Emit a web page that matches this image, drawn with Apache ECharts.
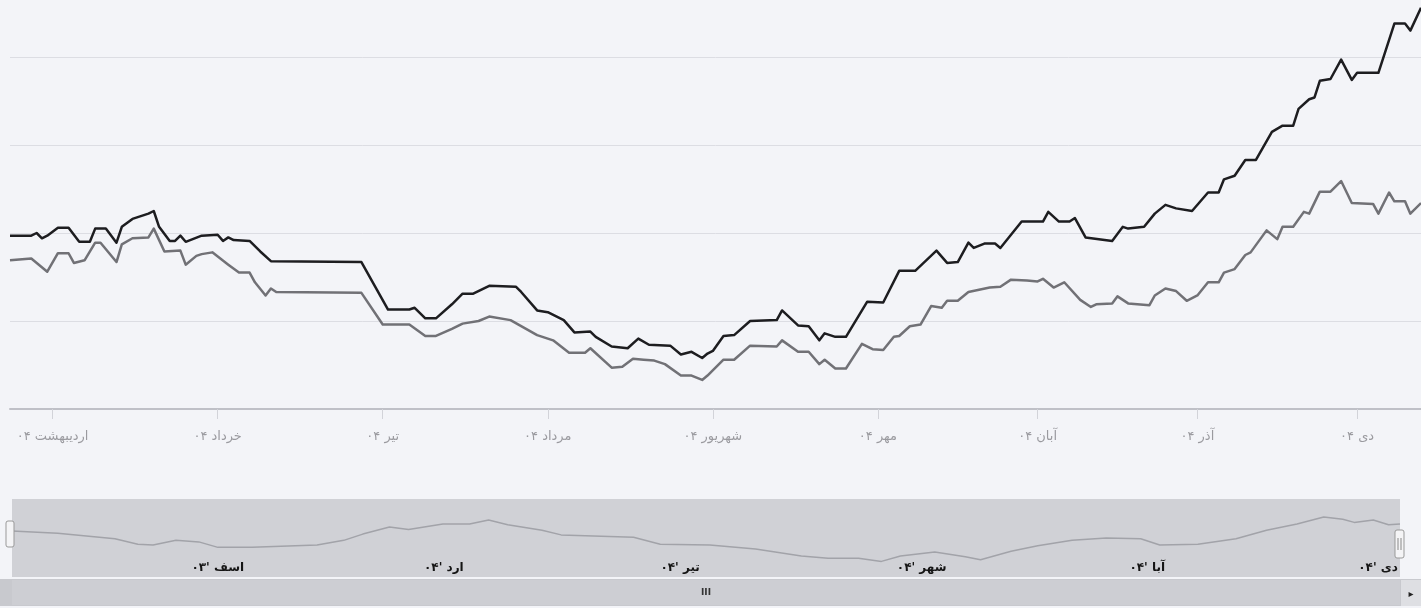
<!DOCTYPE html>
<html><head><meta charset="utf-8">
<script src="https://cdn.jsdelivr.net/npm/echarts@6/dist/echarts.min.js"></script>
<style>html,body{margin:0;padding:0;background:#f3f4f8;}#c{width:1421px;height:608px;}</style>
</head><body><div id="c"></div>
<script>
// Day index counted from 1 Farvardin 1404 (1 = first day)
const monthTickDays = [32, 63, 94, 125, 156, 187, 217, 247, 277];
const monthLabels = ['اردیبهشت ۰۴', 'خرداد ۰۴', 'تیر ۰۴', 'مرداد ۰۴', 'شهریور ۰۴', 'مهر ۰۴', 'آبان ۰۴', 'آذر ۰۴', 'دی ۰۴'];
const navTickDays = [-29, 32, 94, 156, 217, 277];
const navLabels = ["اسف '۰۳", "ارد '۰۴", "تیر '۰۴", "شهر '۰۴", "آبا '۰۴", "دی '۰۴"];

const blackSeries = [[24,197],[28,197],[29,200],[30,194],[31,197],[33,206],[35,206],[37,190],[39,190],[40,205],[42,205],[44,189],[45,207],[47,216],[50,222],[51,225],[52,207],[54,191],[55,191],[56,197],[57,190],[60,197],[63,198],[64,191],[65,195],[66,192],[69,191],[71,179],[73,168],[90,167],[95,113],[99,113],[100,115],[102,103],[104,103],[107,119],[109,131],[111,131],[114,140],[119,139],[120,133],[123,112],[125,110],[128,101],[130,87],[133,88],[134,82],[137,71],[140,69],[142,80],[144,73],[148,72],[150,62],[152,65],[154,58],[155,63],[156,66],[158,83],[160,84],[163,100],[168,101],[169,112],[172,95],[174,94],[176,78],[177,86],[179,82],[181,82],[185,122],[188,121],[191,157],[194,157],[198,180],[200,166],[202,167],[204,189],[205,183],[207,188],[209,188],[210,183],[214,213],[218,213],[219,224],[221,213],[223,213],[224,217],[226,195],[231,191],[233,207],[234,205],[237,207],[239,222],[241,232],[243,228],[246,225],[249,246],[251,246],[252,261],[254,265],[256,283],[258,283],[261,315],[263,322],[265,322],[266,341],[268,352],[269,354],[270,373],[272,375],[274,397],[276,374],[277,382],[281,382],[284,438],[286,438],[287,430],[289,456]];

const graySeries = [[24,169],[28,171],[31,156],[33,177],[35,177],[36,166],[38,169],[40,189],[41,189],[44,167],[45,187],[47,194],[50,195],[51,205],[53,179],[56,180],[57,164],[59,174],[60,176],[62,178],[65,164],[67,155],[69,155],[70,144],[72,129],[73,137],[74,133],[90,132],[94,96],[99,96],[102,83],[104,83],[107,91],[109,97],[112,100],[114,105],[118,101],[123,84],[126,78],[129,64],[132,64],[133,69],[137,47],[139,48],[141,57],[143,56],[145,55],[147,51],[150,38],[152,38],[154,33],[155,38],[158,56],[160,56],[163,72],[168,71],[169,78],[172,65],[174,65],[176,51],[177,56],[179,46],[181,46],[184,74],[186,68],[188,67],[190,82],[191,83],[193,94],[195,96],[197,117],[199,115],[200,123],[202,123],[204,133],[208,138],[210,139],[212,147],[215,146],[217,145],[218,148],[220,138],[222,144],[225,124],[227,116],[228,119],[231,120],[232,128],[234,120],[238,118],[239,129],[241,137],[243,134],[245,123],[247,129],[249,144],[251,144],[252,155],[254,159],[256,175],[257,178],[260,203],[262,193],[263,207],[265,207],[267,224],[268,222],[270,247],[272,247],[274,259],[276,234],[280,233],[281,222],[283,246],[284,236],[286,236],[287,222],[289,234]];

const navSeries = [[-75,59],[-63,56],[-48,49],[-42,42],[-38,41],[-32,47],[-26,45],[-21,38],[-12,38],[5,41],[12,47],[17,55],[24,64],[29,61],[38,68],[45,68],[50,73],[55,67],[64,60],[69,54],[88,51],[95,42],[108,41],[120,36],[132,27],[139,24],[147,24],[153,20],[158,27],[167,32],[175,26],[179,22],[187,33],[194,40],[203,47],[212,50],[221,49],[226,41],[236,42],[246,49],[254,60],[262,68],[269,77],[274,74],[277,70],[282,73],[286,67],[289,68]];

const chart = echarts.init(document.getElementById('c'), null, {renderer: 'canvas'});
const FONT = 'DejaVu Sans';
chart.setOption({
  backgroundColor: '#f3f4f8',
  animation: false,
  textStyle: {fontFamily: FONT},
  grid: [
    {left: 10, top: -31, width: 1411, height: 440, outerBoundsMode: 'none', containLabel: false},
    {left: 12, top: 499, width: 1388, height: 78, outerBoundsMode: 'none', containLabel: false,
     show: true, backgroundColor: '#d0d1d6', borderWidth: 0}
  ],
  xAxis: [
    {
      type: 'value', gridIndex: 0, min: 24, max: 289,
      axisLine: {show: true, lineStyle: {color: '#bfc0c7', width: 2}},
      axisTick: {show: true, customValues: monthTickDays, length: 10, lineStyle: {color: '#d2d3d9'}},
      axisLabel: {
        customValues: monthTickDays, margin: 21, color: '#9a9a9f', fontSize: 13, fontFamily: FONT,
        formatter: v => monthLabels[monthTickDays.indexOf(v)] || ''
      },
      splitLine: {show: false}
    },
    {
      type: 'value', gridIndex: 1, min: -75, max: 289,
      axisLine: {show: false}, axisTick: {show: false}, splitLine: {show: false},
      axisLabel: {
        inside: true, customValues: navTickDays, margin: 3, align: 'left', padding: [0, 0, 0, 4],
        color: '#151515', fontSize: 12, fontWeight: 'bold', fontFamily: FONT,
        formatter: v => navLabels[navTickDays.indexOf(v)] || ''
      }
    }
  ],
  yAxis: [
    {
      type: 'value', gridIndex: 0, min: 0, max: 500, interval: 100,
      axisLine: {show: false}, axisTick: {show: false}, axisLabel: {show: false},
      splitLine: {show: true, lineStyle: {color: '#dcdde3', width: 1}}
    },
    {type: 'value', gridIndex: 1, min: 0, max: 100, show: false, splitLine: {show: false}}
  ],
  series: [
    {type: 'line', xAxisIndex: 0, yAxisIndex: 0, data: graySeries, symbol: 'none', silent: true,
     lineStyle: {color: '#717176', width: 2.5, join: 'round'}},
    {type: 'line', xAxisIndex: 0, yAxisIndex: 0, data: blackSeries, symbol: 'none', silent: true,
     lineStyle: {color: '#1d1d20', width: 2.5, join: 'round'}},
    {type: 'line', xAxisIndex: 1, yAxisIndex: 1, data: navSeries, symbol: 'none', silent: true,
     lineStyle: {color: '#a2a3a9', width: 1.5}}
  ],
  graphic: [
    {type: 'rect', z: 10, shape: {x: 0, y: 579, width: 1421, height: 27}, style: {fill: '#c8c9ce'}},
    {type: 'rect', z: 11, shape: {x: 12, y: 580, width: 1388, height: 25}, style: {fill: '#cdced3'}},
    {type: 'text', z: 12, x: 706, y: 593, style: {text: 'III', fill: '#333', font: 'bold 9px DejaVu Sans', align: 'center', verticalAlign: 'middle'}},
    {type: 'rect', z: 11, shape: {x: 1401, y: 580, width: 20, height: 26}, style: {fill: '#dedfe3'}},
    {type: 'text', z: 12, x: 1411, y: 594, style: {text: '▸', fill: '#222', font: '10px DejaVu Sans', align: 'center', verticalAlign: 'middle'}},
    {type: 'rect', z: 20, shape: {x: 6, y: 521, width: 8, height: 26, r: 2}, style: {fill: '#f4f4f6', stroke: '#999', lineWidth: 1}},
    {type: 'rect', z: 20, shape: {x: 1395, y: 530, width: 9, height: 28, r: 2}, style: {fill: '#f4f4f6', stroke: '#999', lineWidth: 1}},
    {type: 'rect', z: 21, shape: {x: 1397.5, y: 538, width: 1, height: 12}, style: {fill: '#888'}},
    {type: 'rect', z: 21, shape: {x: 1400.5, y: 538, width: 1, height: 12}, style: {fill: '#888'}}
  ]
});
</script></body></html>
